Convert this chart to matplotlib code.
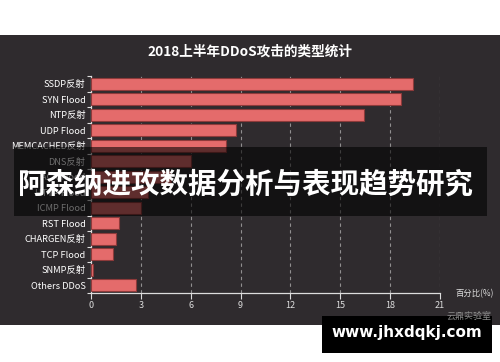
import matplotlib.pyplot as plt
from matplotlib.patches import Rectangle
import numpy as np

plt.rcParams['font.family'] = ['Noto Sans CJK SC', 'DejaVu Sans']

categories = ['SSDP反射', 'SYN Flood', 'NTP反射', 'UDP Flood', 'MEMCACHED反射',
              'DNS反射', 'ACK Flood', 'HTTP Flood', 'ICMP Flood', 'RST Flood',
              'CHARGEN反射', 'TCP Flood', 'SNMP反射', 'Others DDoS']
values = [19.4, 18.65, 16.4, 8.7, 8.1, 6.0, 4.8, 3.4, 3.0, 1.7, 1.5, 1.3, 0.15, 2.7]
xticks = [0, 3, 6, 9, 12, 15, 18, 21]

fig = plt.figure(figsize=(5, 3.62), dpi=100)
fig.patch.set_facecolor('white')

# dark panel behind the chart
fig.add_artist(Rectangle((0, 1 - 325 / 362), 1, 290 / 362, transform=fig.transFigure,
                         facecolor='#2f2b2e', edgecolor='none', zorder=0))

ax = fig.add_axes([91 / 500, 1 - 293 / 362, 349 / 500, 217 / 362])
ax.set_facecolor('none')

y = np.arange(len(categories))
ax.barh(y, values, height=0.78, color='#e46b6b', edgecolor='#8e3a3a', linewidth=0.8, zorder=3)

ax.set_ylim(len(categories) - 0.5, -0.5)
ax.set_xlim(0, 21)
ax.set_xticks(xticks)
ax.set_xticklabels([str(t) for t in xticks])
ax.set_yticks(y)
ax.set_yticklabels(categories)
ax.set_yticks(np.arange(len(categories) + 1) - 0.5, minor=True)

ax.tick_params(axis='y', which='major', length=0, colors='white', labelsize=6.7, pad=4)
ax.tick_params(axis='y', which='minor', length=3, color='#dddddd', width=0.8)
ax.tick_params(axis='x', length=4, color='#dddddd', labelcolor='#dddddd', labelsize=6.5, pad=2, width=0.8)

for s in ['top', 'right']:
    ax.spines[s].set_visible(False)
for s in ['left', 'bottom']:
    ax.spines[s].set_color('#dddddd')
    ax.spines[s].set_linewidth(0.9)

ax.xaxis.grid(True, linestyle=(0, (3, 3)), color='#bbbbbb', alpha=0.7, linewidth=0.8, zorder=1)
ax.set_axisbelow(True)

fig.text(0.5, 1 - 52 / 362, '2018上半年DDoS攻击的类型统计', color='white', fontsize=9.8,
         fontweight='bold', ha='center', va='center')
fig.text(475 / 500, 1 - 294 / 362, '百分比(%)', color='#dddddd', fontsize=6, ha='center', va='center')

# overlay banner
fig.add_artist(Rectangle((14 / 500, 1 - 216 / 362), 473 / 500, 69 / 362, transform=fig.transFigure,
                         facecolor='black', edgecolor='none', alpha=0.58, zorder=10))
fig.text(246 / 500, 1 - 185 / 362, '阿森纳进攻数据分析与表现趋势研究', color='white', fontsize=20.5,
         fontweight='bold', ha='center', va='center', zorder=11)

# watermark box
fig.add_artist(Rectangle((322 / 500, 1 - 353 / 362), 170 / 500, 37 / 362, transform=fig.transFigure,
                         facecolor='black', edgecolor='none', zorder=10))
fig.text(407 / 500, 1 - 333 / 362, 'www.jhxdqkj.com', color='white', fontsize=11,
         fontweight='bold', ha='center', va='center', family='DejaVu Sans', zorder=11)
fig.text(469 / 500, 1 - 316 / 362, '云鼎实验室', color='#8a8a8a', fontsize=6.5,
         ha='center', va='center', zorder=12)

fig.savefig('out.png', dpi=100)
